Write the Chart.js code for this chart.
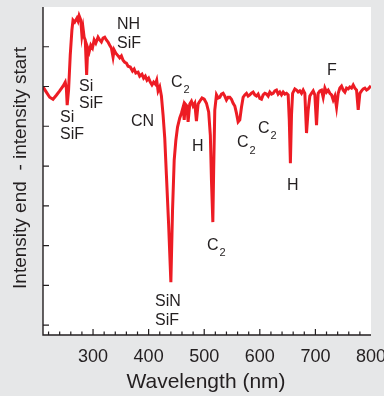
<!DOCTYPE html>
<html>
<head>
    <title>Emission difference spectrum</title>
    <style>
        body {
            margin: 0;
            background: #e6e7e8;
        }

        #wrap {
            width: 384px;
            height: 396px;
        }
    </style>
    <script src="https://cdn.jsdelivr.net/npm/chart.js"></script>
</head>
<body>

    <div id="wrap">
        <canvas id="spectrumChart" width="384" height="396"></canvas>
    </div>

    <script>
        // wavelength (nm) and intensity difference (arbitrary units)
        const wavelengths = [
            210, 216, 222, 228, 234, 240, 246, 250, 252, 253.5, 256, 259, 262, 264, 267, 271, 273, 275, 278, 280,
            282, 284, 286, 288.5, 290.5, 293, 296, 299, 302, 305, 309, 312, 315, 318, 321, 324, 327, 330, 333, 336,
            338, 341, 344, 348, 351, 354, 357, 360, 363, 367, 371, 374, 377, 381, 384, 388, 391, 394, 397, 400,
            403, 406, 409, 412, 414.5, 417, 420, 423, 426, 429, 432, 436, 440, 443, 446, 449, 452, 456, 459, 462,
            464, 466, 469, 471, 474, 477, 480, 483, 486, 489, 492, 496, 500, 504, 508, 511, 513, 515.5, 517, 519,
            522, 525, 528, 531, 534, 537, 540, 543, 546, 549, 552, 555, 558, 561, 564, 567, 570, 573, 576, 579,
            582, 585, 588, 591, 594, 597, 600, 603, 606, 609, 612, 615, 618, 621, 624, 627, 630, 633, 636, 639,
            642, 645, 648, 651, 653, 655, 657, 659, 663, 666, 669, 672, 675, 678, 681, 684, 687, 690, 693, 696,
            699, 702, 705, 708, 711, 714, 717, 720, 723, 726, 729, 732, 735, 738, 741, 744, 747, 750, 753, 756,
            759, 762, 765, 768, 771, 774, 777, 780, 783, 786, 789, 792, 795, 798, 800
        ];
        const intensity = [
            5.99, 5.86, 5.73, 5.68, 5.78, 5.89, 6.01, 6.11, 5.96, 5.53, 5.91, 6.79, 7.42, 7.67, 7.62, 7.72, 7.65, 7.78, 7.67, 7.29,
            7.47, 7.24, 7.17, 6.29, 6.97, 6.87, 7.04, 6.97, 7.17, 7.09, 7.24, 7.17, 7.12, 7.22, 7.24, 7.17, 7.12, 7.04, 6.97, 6.74,
            6.92, 6.84, 6.79, 6.72, 6.77, 6.66, 6.61, 6.59, 6.51, 6.49, 6.39, 6.44, 6.34, 6.36, 6.26, 6.31, 6.21, 6.26, 6.16, 6.21,
            6.11, 6.04, 6.11, 6.06, 6.16, 5.89, 5.99, 5.76, 5.28, 4.70, 3.77, 2.52, 1.08, 2.89, 4.15, 4.65, 4.98, 5.21, 5.33, 5.48,
            5.16, 5.56, 5.51, 5.11, 5.56, 5.63, 5.51, 5.58, 5.13, 5.56, 5.63, 5.71, 5.68, 5.58, 5.36, 4.78, 3.65, 2.59, 3.90, 5.41,
            5.79, 5.71, 5.73, 5.81, 5.83, 5.76, 5.66, 5.73, 5.73, 5.68, 5.58, 5.51, 5.33, 5.11, 5.16, 5.48, 5.73, 5.79, 5.83, 5.76,
            5.79, 5.83, 5.86, 5.79, 5.76, 5.81, 5.70, 5.68, 5.79, 5.83, 5.81, 5.76, 5.86, 5.81, 5.83, 5.89, 5.91, 5.81, 5.86, 5.79,
            5.86, 5.81, 5.83, 5.79, 5.16, 4.07, 5.28, 5.83, 5.94, 5.91, 5.86, 5.89, 5.83, 5.91, 5.83, 4.83, 5.41, 5.76, 5.83, 5.89,
            5.79, 5.03, 5.83, 5.89, 5.91, 5.73, 5.96, 5.86, 5.91, 5.83, 5.79, 5.66, 5.76, 5.48, 5.83, 5.96, 6.01, 5.91, 5.86, 5.96,
            5.94, 5.99, 5.96, 6.04, 5.96, 5.91, 5.41, 5.83, 5.89, 5.94, 5.96, 5.91, 5.94, 5.99, 5.96
        ];

        const xTickLabels = [300, 400, 500, 600, 700, 800];
        const xMinorTicks = [220, 240, 260, 280, 300, 320, 340, 360, 380, 400, 420, 440, 460, 480, 500,
            520, 540, 560, 580, 600, 620, 640, 660, 680, 700, 720, 740, 760, 780];
        const yTicks = [0, 1, 2, 3, 4, 5, 6, 7];

        // line assignments written on the plot: [text, subscript, wavelength, intensity]
        const lineLabels = [
            ['Si', '', 240.6, 5.23], ['SiF', '', 240.6, 4.80],
            ['Si', '', 274.8, 5.99], ['SiF', '', 274.8, 5.56],
            ['NH', '', 343.1, 7.57], ['SiF', '', 343.1, 7.07],
            ['CN', '', 368.3, 5.11],
            ['C', '2', 440.3, 6.11],
            ['H', '', 478.0, 4.50],
            ['C', '2', 505.0, 2.01],
            ['C', '2', 559.0, 4.58],
            ['C', '2', 596.8, 4.95],
            ['H', '', 648.9, 3.52],
            ['F', '', 720.9, 6.39],
            ['SiN', '', 411.5, 0.60], ['SiF', '', 411.5, 0.10]
        ];

        const textColor = '#231f20';
        const fontName = '"Liberation Sans", Arial, sans-serif';

        const framePlugin = {
            id: 'frame',
            beforeDraw(chart) {
                const ctx = chart.ctx;
                const a = chart.chartArea;
                ctx.save();
                ctx.fillStyle = '#ffffff';
                ctx.fillRect(a.left, a.top, a.right - a.left, a.bottom - a.top);
                ctx.restore();
            },
            afterDraw(chart) {
                const ctx = chart.ctx;
                const a = chart.chartArea;
                const xs = chart.scales.x;
                const ys = chart.scales.y;
                ctx.save();
                ctx.strokeStyle = textColor;
                ctx.lineWidth = 1.4;

                // axis lines
                ctx.beginPath();
                ctx.moveTo(a.left, a.top);
                ctx.lineTo(a.left, a.bottom);
                ctx.lineTo(a.right, a.bottom);
                ctx.stroke();

                // inward ticks
                ctx.lineWidth = 1.2;
                ctx.beginPath();
                xMinorTicks.forEach(v => {
                    const px = xs.getPixelForValue(v);
                    const len = v % 100 === 0 ? 6 : 3.5;
                    ctx.moveTo(px, a.bottom);
                    ctx.lineTo(px, a.bottom - len);
                });
                yTicks.forEach(v => {
                    const py = ys.getPixelForValue(v);
                    ctx.moveTo(a.left, py);
                    ctx.lineTo(a.left + 6, py);
                });
                ctx.stroke();

                ctx.fillStyle = textColor;
                ctx.textBaseline = 'middle';

                // tick labels
                ctx.font = '18px ' + fontName;
                ctx.textAlign = 'center';
                xTickLabels.forEach(v => {
                    ctx.fillText(String(v), xs.getPixelForValue(v), a.bottom + 22);
                });

                // axis titles
                ctx.font = '21px ' + fontName;
                ctx.fillText('Wavelength (nm)', (a.left + a.right) / 2 - 1, a.bottom + 47);
                ctx.save();
                ctx.translate(21, 168);
                ctx.rotate(-Math.PI / 2);
                ctx.font = '19px ' + fontName;
                ctx.fillText('Intensity end  - intensity start', 0, 0);
                ctx.restore();

                // line assignments
                ctx.textAlign = 'left';
                lineLabels.forEach(([text, sub, wl, val]) => {
                    const px = xs.getPixelForValue(wl);
                    const py = ys.getPixelForValue(val);
                    ctx.font = '16px ' + fontName;
                    ctx.fillText(text, px, py);
                    if (sub) {
                        const w = ctx.measureText(text).width;
                        ctx.font = '11px ' + fontName;
                        ctx.fillText(sub, px + w + 1, py + 8);
                    }
                });
                ctx.restore();
            }
        };

        const spectrumChart = new Chart(document.getElementById('spectrumChart').getContext('2d'), {
            type: 'line',
            data: {
                datasets: [{
                    label: 'Intensity difference',
                    data: wavelengths.map((w, i) => ({ x: w, y: intensity[i] })),
                    borderColor: '#ed1c24',
                    borderWidth: 3,
                    pointRadius: 0,
                    tension: 0,
                    fill: false
                }]
            },
            options: {
                responsive: false,
                animation: false,
                devicePixelRatio: 1,
                layout: {
                    padding: { left: 43, top: 7, right: 13, bottom: 61 }
                },
                plugins: {
                    legend: { display: false },
                    tooltip: { enabled: false }
                },
                scales: {
                    x: { type: 'linear', min: 210, max: 800, display: false },
                    y: { type: 'linear', min: -0.25, max: 8, display: false }
                }
            },
            plugins: [framePlugin]
        });
    </script>

</body>
</html>
